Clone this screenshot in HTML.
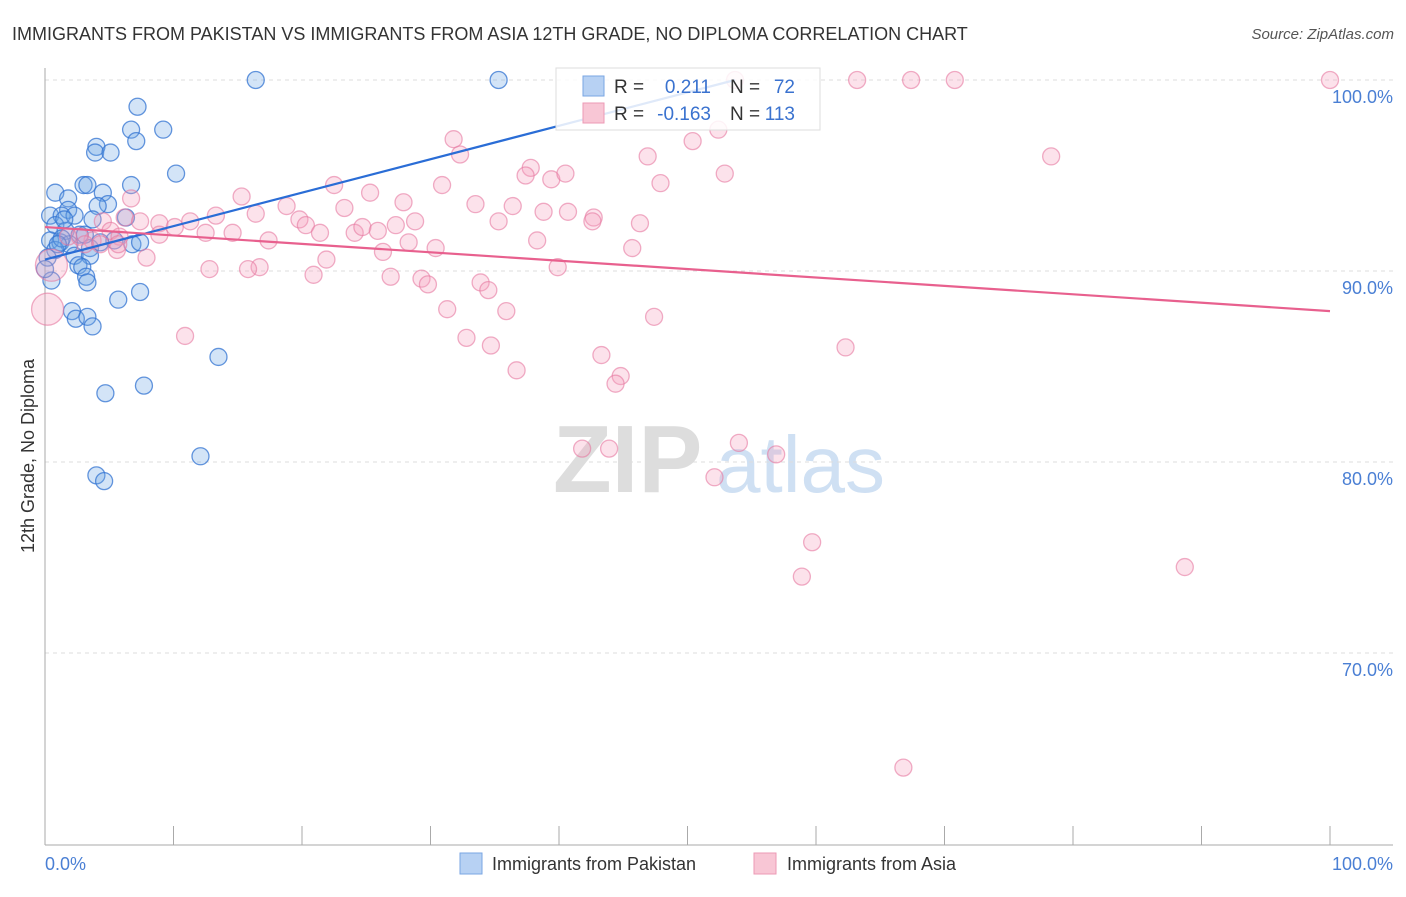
<!DOCTYPE html>
<html><head><meta charset="utf-8"><style>
body{margin:0;background:#fff;font-family:"Liberation Sans",sans-serif;}
svg text{font-family:"Liberation Sans",sans-serif;}
</style></head><body>
<svg width="1406" height="892" viewBox="0 0 1406 892">
<text x="12" y="40" font-size="18" fill="#333">IMMIGRANTS FROM PAKISTAN VS IMMIGRANTS FROM ASIA 12TH GRADE, NO DIPLOMA CORRELATION CHART</text>
<text x="1394" y="39" font-size="15" fill="#555" font-style="italic" text-anchor="end">Source: ZipAtlas.com</text>
<g>
<text x="553" y="492" font-size="96" fill="#ddd" font-family="Liberation Serif" font-weight="bold">ZIP</text>
<text x="716" y="492" font-size="80" fill="#cfe0f3">atlas</text>
</g>
<g id="grid"></g>
<g id="axes"></g>
<g id="pts"></g>
<g id="lines"></g>
<g>
<rect x="556" y="68" width="264" height="62" fill="rgba(255,255,255,0.85)" stroke="#ddd"/>
<rect x="583" y="76" width="21" height="20" fill="#b7d1f3" stroke="#7aa6e3"/>
<rect x="583" y="103" width="21" height="20" fill="#f8c6d5" stroke="#ec9ab5"/>
<text x="614" y="93" font-size="19" fill="#333">R =</text>
<text x="711" y="93" font-size="19" fill="#3a72cf" text-anchor="end">0.211</text>
<text x="730" y="93" font-size="19" fill="#333">N =</text>
<text x="795" y="93" font-size="19" fill="#3a72cf" text-anchor="end">72</text>
<text x="614" y="120" font-size="19" fill="#333">R =</text>
<text x="711" y="120" font-size="19" fill="#3a72cf" text-anchor="end">-0.163</text>
<text x="730" y="120" font-size="19" fill="#333">N =</text>
<text x="795" y="120" font-size="19" fill="#3a72cf" text-anchor="end">113</text>
</g>
<text transform="translate(34,456) rotate(-90)" font-size="18" fill="#333" text-anchor="middle">12th Grade, No Diploma</text>
<text x="45" y="870" font-size="18" fill="#4a7fd4">0.0%</text>
<text x="1393" y="870" font-size="18" fill="#4a7fd4" text-anchor="end">100.0%</text>
<g>
<rect x="460" y="853" width="22" height="21" fill="#b7d1f3" stroke="#7aa6e3"/>
<text x="492" y="870" font-size="18" fill="#333">Immigrants from Pakistan</text>
<rect x="754" y="853" width="22" height="21" fill="#f8c6d5" stroke="#ec9ab5"/>
<text x="787" y="870" font-size="18" fill="#333">Immigrants from Asia</text>
</g>
</svg>
<script>
const yTicks=[100,90,80,70];
const yTickLabels=["100.0%","90.0%","80.0%","70.0%"];
const xTicks=[0,10,20,30,40,50,60,70,80,90,100];
const blueX=[16.4,35.3,7.2,6.7,9.2,7.1,4.0,3.9,5.1,10.2,0.8,3.0,3.3,6.7,4.5,1.8,4.9,4.1,1.8,0.4,1.3,2.3,3.7,6.3,0.8,1.6,2.7,0.4,1.2,1.9,3.5,5.4,6.8,7.4,0.8,2.3,3.5,0.2,2.6,2.9,3.2,3.3,0.5,7.4,5.7,2.1,2.4,3.3,3.7,13.5,7.7,4.7,12.1,4.0,4.6,0,1.3,4.3,1.5,1.0,3.1];
const blueY=[100,100,98.6,97.4,97.4,96.8,96.5,96.2,96.2,95.1,94.1,94.5,94.5,94.5,94.1,93.8,93.5,93.4,93.2,92.9,92.9,92.9,92.7,92.8,92.4,92.1,91.9,91.6,91.5,91.4,91.2,91.6,91.4,91.5,91.1,90.8,90.8,90.7,90.3,90.2,89.7,89.4,89.5,88.9,88.5,87.9,87.5,87.6,87.1,85.5,84.0,83.6,80.3,79.3,79.0,90.1,91.7,91.5,92.7,91.4,91.9];
const pinkX=[53.7,63.2,67.4,70.8,100,31.8,32.3,78.3,50.4,52.4,46.9,37.8,37.4,39.4,40.5,47.9,52.9,30.9,22.5,25.3,27.9,15.3,6.7,18.8,23.3,33.5,36.4,38.8,40.7,42.7,42.6,46.3,35.3,28.8,27.3,16.4,13.3,11.3,8.9,6.2,7.4,4.5,5.1,19.8,20.3,21.4,24.1,24.7,25.9,14.6,12.5,10.1,8.9,5.8,3.7,2.7,1.8,17.4,28.3,30.4,38.3,26.3,45.7,5.6,7.9,21.9,16.7,15.8,12.8,20.9,26.9,29.3,29.8,39.9,33.9,34.5,31.3,35.9,47.4,32.8,34.7,62.3,43.3,36.7,44.8,44.4,10.9,0.5,0.2,54.0,41.8,43.9,56.9,52.1,59.7,58.9,88.7,66.8,5.7,4.3,3.1];
const pinkY=[100,100,100,100,100,96.9,96.1,96.0,96.8,97.4,96.0,95.4,95.0,94.8,95.1,94.6,95.1,94.5,94.5,94.1,93.6,93.9,93.8,93.4,93.3,93.5,93.4,93.1,93.1,92.8,92.6,92.5,92.6,92.6,92.4,93.0,92.9,92.6,92.5,92.8,92.6,92.6,92.1,92.7,92.4,92.0,92.0,92.3,92.1,92.0,92.0,92.3,91.9,91.8,91.6,91.8,91.8,91.6,91.5,91.2,91.6,91.0,91.2,91.1,90.7,90.6,90.2,90.1,90.1,89.8,89.7,89.6,89.3,90.2,89.4,89.0,88.0,87.9,87.6,86.5,86.1,86.0,85.6,84.8,84.5,84.1,86.6,90.3,88.0,81.0,80.7,80.7,80.4,79.2,75.8,74.0,74.5,64.0,91.4,91.4,91.4];
const bigPink=[87,88];
const blueTrend=[0,90.6,53.7,100];
const pinkTrend=[0,92.3,100,87.9];
const NS='http://www.w3.org/2000/svg';
function sx(v){return 45+v*12.85;}
function sy(v){return 80+(100-v)*19.1;}
function mk(t,a,p){const e=document.createElementNS(NS,t);for(const k in a)e.setAttribute(k,a[k]);p.appendChild(e);return e;}
const grid=document.getElementById('grid'),axes=document.getElementById('axes'),pts=document.getElementById('pts'),lines=document.getElementById('lines');
yTicks.forEach((v,i)=>{
 const l=mk('line',{x1:45,x2:1393,y1:sy(v),y2:sy(v),stroke:'#ddd','stroke-dasharray':'4,4'},grid);
 
 
 const t=mk('text',{x:1393,y:sy(v)+23,'font-size':18,fill:'#4a7fd4','text-anchor':'end'},axes);
 t.textContent=yTickLabels[i];
 
 
});
mk('line',{x1:45,x2:45,y1:68,y2:845,stroke:'#aaa'},axes);
mk('line',{x1:45,x2:1393,y1:845,y2:845,stroke:'#aaa'},axes);
xTicks.forEach(v=>{
 const l=mk('line',{x1:sx(v),x2:sx(v),y1:826,y2:845,stroke:'#aaa'},axes);
 
 
});
blueX.forEach((x,i)=>{
 const c=mk('circle',{cx:sx(x),cy:sy(blueY[i]),r:8.5,fill:'rgba(110,165,230,0.3)',stroke:'rgba(50,115,210,0.75)','stroke-width':1.3},pts);
 
 
});
pinkX.forEach((x,i)=>{
 const r=bigPink.includes(i)?16:8.5;
 const c=mk('circle',{cx:sx(x),cy:sy(pinkY[i]),r:r,fill:'rgba(245,160,190,0.3)',stroke:'rgba(230,120,160,0.6)','stroke-width':1.3},pts);
 
 
});
const bl=mk('line',{x1:sx(blueTrend[0]),y1:sy(blueTrend[1]),x2:sx(blueTrend[2]),y2:sy(blueTrend[3]),stroke:'#2a6dd6','stroke-width':2.2},lines);


const pl=mk('line',{x1:sx(pinkTrend[0]),y1:sy(pinkTrend[1]),x2:sx(pinkTrend[2]),y2:sy(pinkTrend[3]),stroke:'#e8608e','stroke-width':2.2},lines);


</script>
</body></html>
